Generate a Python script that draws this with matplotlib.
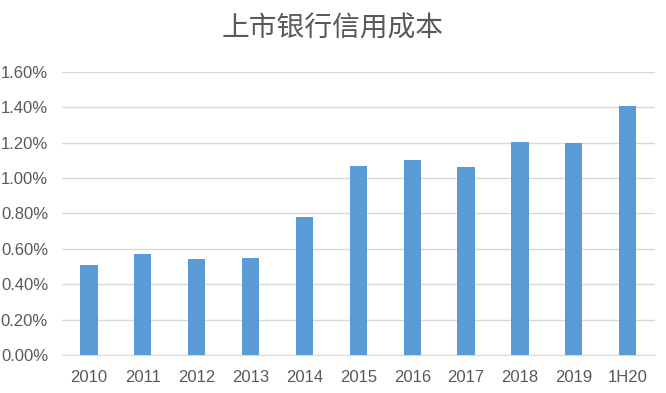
import matplotlib
matplotlib.use("Agg")
import matplotlib.pyplot as plt
from matplotlib.ticker import FuncFormatter

plt.rcParams["font.family"] = ["Noto Sans CJK SC", "DejaVu Sans"]

years = ["2010", "2011", "2012", "2013", "2014", "2015", "2016",
         "2017", "2018", "2019", "1H20"]
credit_cost = [0.51, 0.57, 0.54, 0.55, 0.78, 1.07, 1.10, 1.06, 1.205, 1.20, 1.41]  # %

fig = plt.figure(figsize=(6.66, 3.93), dpi=100)
ax = fig.add_axes([0.093, 0.097, 0.89, 0.72])

x = range(len(years))
ax.bar(x, credit_cost, width=0.32, color="#5B9BD5", zorder=3)

ax.set_xlim(-0.5, len(years) - 0.5)
ax.set_ylim(0, 1.6)
ax.set_yticks([i * 0.2 for i in range(9)])
ax.yaxis.set_major_formatter(FuncFormatter(lambda v, p: f"{v:.2f}%"))
ax.set_xticks(list(x))
ax.set_xticklabels(years)

ax.grid(axis="y", color="#D9D9D9", linewidth=1, zorder=0)
for s in ["top", "right", "left"]:
    ax.spines[s].set_visible(False)
ax.spines["bottom"].set_color("#D9D9D9")
ax.tick_params(length=0, labelsize=12, colors="#595959")
for lab in ax.get_xticklabels() + ax.get_yticklabels():
    lab.set_family(["Liberation Sans", "DejaVu Sans"])
ax.tick_params(axis="y", pad=10)
ax.tick_params(axis="x", pad=11)

fig.text(0.5, 0.928, "上市银行信用成本", ha="center", va="center",
         fontsize=20, color="#595959")

fig.savefig("out.png", dpi=100)
